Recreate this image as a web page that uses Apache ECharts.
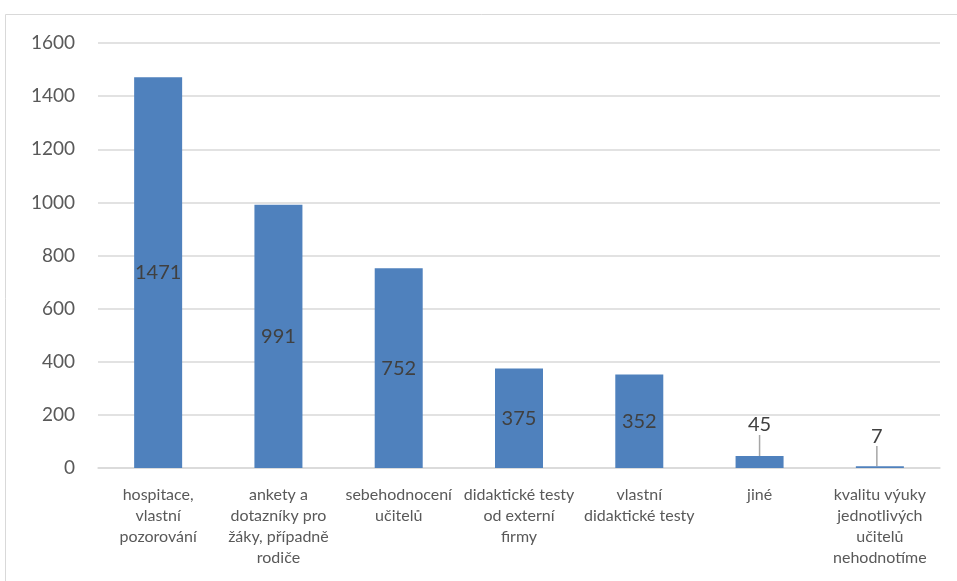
<!DOCTYPE html>
<html>
<head>
<meta charset="utf-8">
<script src="https://cdn.jsdelivr.net/npm/echarts@6/dist/echarts.min.js"></script>
<style>
  html, body { margin: 0; padding: 0; background: #fff; }
  #chart { width: 957px; height: 581px; }
</style>
</head>
<body>
<div id="chart"></div>
<script>
// Categories of teaching-quality evaluation methods
const categories = [
  'hospitace,\nvlastní\npozorování',
  'ankety a\ndotazníky pro\nžáky, případně\nrodiče',
  'sebehodnocení\nučitelů',
  'didaktické testy\nod externí\nfirmy',
  'vlastní\ndidaktické testy',
  'jiné',
  'kvalitu výuky\njednotlivých\nučitelů\nnehodnotíme'
];
const counts = [1471, 991, 752, 375, 352, 45, 7];
const yTicks = { min: 0, max: 1600, interval: 200 };

const FONT = 'Lato, "Noto Sans", sans-serif';
const chart = echarts.init(document.getElementById('chart'));

chart.setOption({
  animation: false,
  backgroundColor: '#fff',
  graphic: [{
    type: 'rect',
    shape: { x: 5.5, y: 14.5, width: 960, height: 600 },
    style: { fill: 'none', stroke: '#d9d9d9', lineWidth: 1 },
    silent: true
  }],
  grid: { left: 98, right: 17, top: 43, bottom: 113 },
  xAxis: {
    type: 'category',
    data: categories,
    axisTick: { show: false },
    axisLine: { lineStyle: { color: '#d9d9d9', width: 1.5 } },
    axisLabel: {
      color: '#595959', fontFamily: FONT, fontSize: 16,
      lineHeight: 21, margin: 16, interval: 0
    }
  },
  yAxis: {
    type: 'value',
    min: yTicks.min, max: yTicks.max, interval: yTicks.interval,
    axisLine: { show: false },
    axisTick: { show: false },
    splitLine: { lineStyle: { color: '#d9d9d9', width: 1.5 } },
    axisLabel: {
      color: '#595959', fontFamily: FONT, fontSize: 19, margin: 23,
      formatter: function (v) { return String(v); }
    }
  },
  series: [{
    type: 'bar',
    data: counts,
    barWidth: 48,
    itemStyle: { color: '#4f81bd' },
    label: {
      show: true,
      position: 'inside',
      color: '#404040',
      fontFamily: FONT,
      fontSize: 20
    },
    labelLine: { show: true, lineStyle: { color: '#a6a6a6', width: 1.5 } },
    labelLayout: function (p) {
      if (p.dataIndex === 5) return { dy: -37 };
      if (p.dataIndex === 6) return { dy: -31, dx: -3 };
      return {};
    }
  }]
});
</script>
</body>
</html>
